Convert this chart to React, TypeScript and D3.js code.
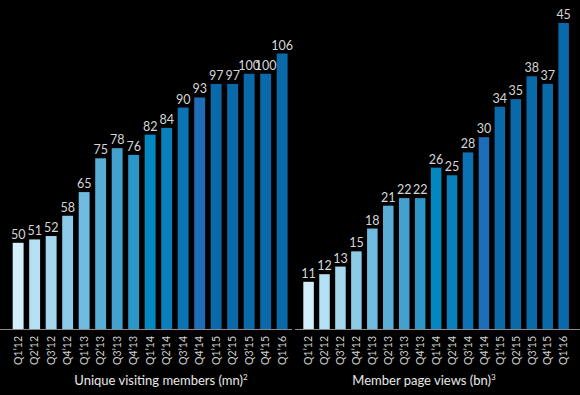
import { useEffect, useRef } from "react";
import * as d3 from "d3";

const quarters = [
  "Q1’12", "Q2’12", "Q3’12", "Q4’12",
  "Q1’13", "Q2’13", "Q3’13", "Q4’13",
  "Q1’14", "Q2’14", "Q3’14", "Q4’14",
  "Q1’15", "Q2’15", "Q3’15", "Q4’15",
  "Q1’16",
];
const uniqueVisitors = [50, 51, 52, 58, 65, 75, 78, 76, 82, 84, 90, 93, 97, 97, 100, 100, 106];
const pageViews = [11, 12, 13, 15, 18, 21, 22, 22, 26, 25, 28, 30, 34, 35, 38, 37, 45];
const barColors = [
  "#d2eefa", "#b4e0f3", "#a4d7ee", "#8bcbe8",
  "#6ebbdf", "#59aed7", "#43a1cf", "#2c96c8",
  "#0387c0", "#0a7fbc", "#0b73b4", "#1d6db8",
  "#0a6aa9", "#0a6aa9", "#0a6aa9", "#0a6aa9",
  "#0a6aa9",
];

const W = 580;
const H = 395;
const BASE = 329;
const FONT = "Lato, 'Open Sans', sans-serif";

function App() {
  const ref = useRef(null);

  useEffect(() => {
    document.body.style.margin = "0";
    document.body.style.background = "#000";

    const svg = d3.select(ref.current);
    svg.selectAll("*").remove();

    const panels = [
      {
        values: uniqueVisitors,
        xRange: [9.9, 290.4],
        yDomain: [24.5, 106],
        yTop: 53.5,
        axis: [0, 292],
        title: "Unique visiting members (mn)",
        sup: "2",
        titleX: 161,
      },
      {
        values: pageViews,
        xRange: [300.6, 571.6],
        yDomain: [4.8, 45],
        yTop: 23,
        axis: [295, 580],
        title: "Member page views (bn)",
        sup: "3",
        titleX: 424,
      },
    ];

    panels.forEach((p) => {
      const g = svg.append("g");

      const x = d3
        .scaleBand()
        .domain(quarters)
        .range(p.xRange)
        .paddingInner(0.34)
        .paddingOuter(0.17);

      const y = d3.scaleLinear().domain(p.yDomain).range([BASE, p.yTop]);

      // bars
      g.selectAll("rect")
        .data(p.values)
        .join("rect")
        .attr("x", (d, i) => x(quarters[i]))
        .attr("y", (d) => y(d))
        .attr("width", x.bandwidth())
        .attr("height", (d) => BASE - y(d))
        .attr("fill", (d, i) => barColors[i]);

      // value labels
      g.selectAll("text.val")
        .data(p.values)
        .join("text")
        .attr("class", "val")
        .attr("x", (d, i) => x(quarters[i]) + x.bandwidth() / 2)
        .attr("y", (d) => y(d) - 4)
        .attr("text-anchor", "middle")
        .attr("fill", "#d6d6d6")
        .style("font-family", FONT)
        .style("font-size", "12.5px")
        .text((d) => d);

      // baseline
      g.append("line")
        .attr("x1", p.axis[0])
        .attr("x2", p.axis[1])
        .attr("y1", BASE + 0.5)
        .attr("y2", BASE + 0.5)
        .attr("stroke", "#8a8a8a")
        .attr("stroke-width", 1.2);

      // category labels
      g.selectAll("text.cat")
        .data(quarters)
        .join("text")
        .attr("class", "cat")
        .attr(
          "transform",
          (d) => `translate(${x(d) + x.bandwidth() / 2},336) rotate(-90)`
        )
        .attr("dy", "0.36em")
        .attr("text-anchor", "end")
        .attr("fill", "#d0d0d0")
        .style("font-family", FONT)
        .style("font-size", "10.5px")
        .text((d) => d);

      // title
      const t = g
        .append("text")
        .attr("x", p.titleX)
        .attr("y", 385)
        .attr("text-anchor", "middle")
        .attr("fill", "#e8e8e8")
        .style("font-family", FONT)
        .style("font-size", "13px")
        .text(p.title);
      t.append("tspan")
        .attr("dy", -5)
        .style("font-size", "8px")
        .text(p.sup);
    });
  }, []);

  return (
    <svg
      ref={ref}
      width={W}
      height={H}
      viewBox={`0 0 ${W} ${H}`}
      style={{ display: "block", background: "#000" }}
    />
  );
}

export default App;
